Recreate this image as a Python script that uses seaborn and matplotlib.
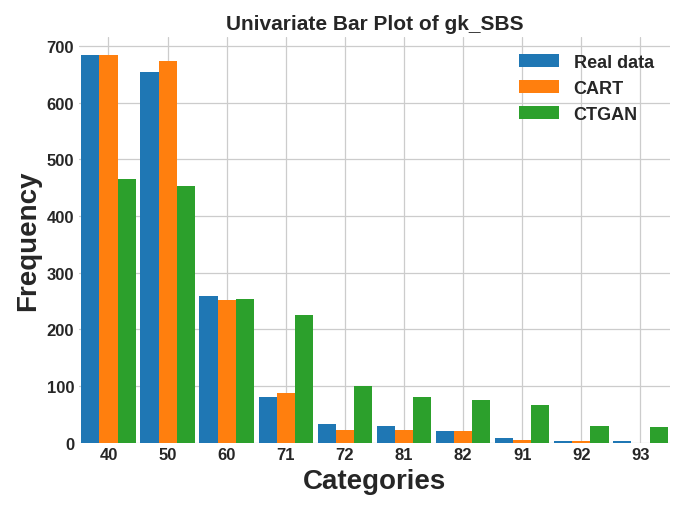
import numpy as np
import pandas as pd
import matplotlib
matplotlib.use("Agg")
import matplotlib.pyplot as plt
import seaborn as sns

categories = ["40", "50", "60", "71", "72", "81", "82", "91", "92", "93"]
real_data = [683, 654, 259, 80, 32, 30, 21, 8, 2, 2]
cart = [683, 674, 252, 88, 23, 23, 21, 5, 2, 0]
ctgan = [465, 452, 254, 225, 100, 80, 76, 66, 30, 28]

df = pd.DataFrame({
    "category": categories * 3,
    "freq": real_data + cart + ctgan,
    "source": ["Real data"] * 10 + ["CART"] * 10 + ["CTGAN"] * 10,
})

sns.set_style("whitegrid")
plt.rcParams["font.family"] = "Liberation Sans"
fig, ax = plt.subplots(figsize=(6.85, 5.10), dpi=100)
sns.barplot(data=df, x="category", y="freq", hue="source",
            palette=["#1f77b4", "#ff7f0e", "#2ca02c"], width=0.92,
            saturation=1, linewidth=0, edgecolor="none", ax=ax)

for s in ax.spines.values():
    s.set_visible(False)
ax.grid(True, color="#cccccc", linewidth=0.9)
ax.set_axisbelow(True)
ax.set_ylim(0, 715)
ax.set_yticks(range(0, 701, 100))
ax.set_title("Univariate Bar Plot of gk_SBS", fontsize=15, fontweight="bold")
ax.set_xlabel("Categories", fontsize=20, fontweight="bold")
ax.set_ylabel("Frequency", fontsize=20, fontweight="bold")
ax.tick_params(labelsize=12, length=0)
for lab in ax.get_xticklabels() + ax.get_yticklabels():
    lab.set_fontweight("bold")
ax.legend(loc="upper right", frameon=False,
          prop={"size": 13, "weight": "bold"}, handlelength=2.2)

plt.tight_layout()
plt.savefig("out.png")
